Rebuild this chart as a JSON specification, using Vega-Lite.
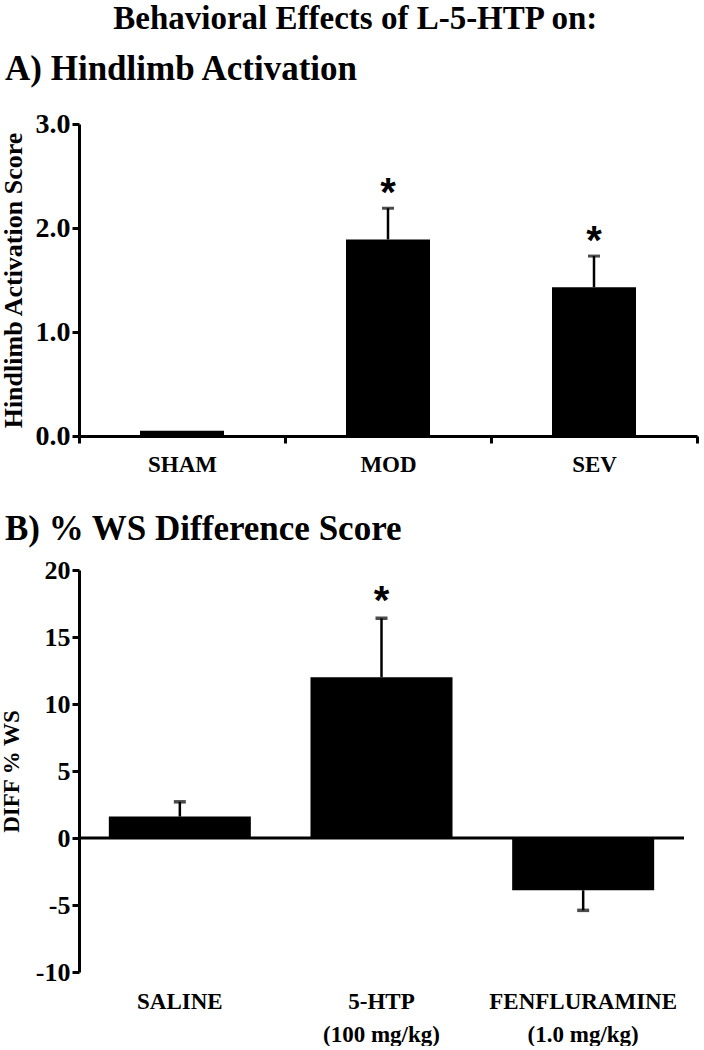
{
  "$schema": "https://vega.github.io/schema/vega-lite/v6.json",
  "background": "white",
  "padding": {"left": 0, "right": 4, "top": 3, "bottom": 0},
  "title": {
    "text": "Behavioral Effects of L-5-HTP on:",
    "font": "Liberation Serif",
    "fontSize": 33,
    "fontWeight": "bold",
    "color": "black",
    "anchor": "middle",
    "frame": "bounds",
    "dx": 6,
    "offset": 16
  },
  "config": {
    "view": {"stroke": null},
    "axis": {
      "labelFont": "Liberation Serif",
      "labelFontWeight": "bold",
      "labelColor": "black",
      "titleFont": "Liberation Serif",
      "titleFontWeight": "bold",
      "titleColor": "black",
      "domainColor": "black",
      "tickColor": "black",
      "domainWidth": 3,
      "tickWidth": 3,
      "tickSize": 7,
      "grid": false
    },
    "title": {"font": "Liberation Serif", "fontWeight": "bold", "color": "black"}
  },
  "spacing": 36,
  "vconcat": [
    {
      "width": 618,
      "height": 312,
      "title": {
        "text": "A) Hindlimb Activation",
        "fontSize": 35,
        "anchor": "start",
        "frame": "group",
        "dx": -74,
        "baseline": "alphabetic",
        "offset": -5
      },
      "data": {
        "values": [
          {"group": "SHAM", "mean": 0.05, "upper": null, "sig": false},
          {"group": "MOD", "mean": 1.89, "upper": 2.19, "sig": true},
          {"group": "SEV", "mean": 1.43, "upper": 1.73, "sig": true}
        ]
      },
      "encoding": {
        "x": {
          "field": "group",
          "type": "nominal",
          "sort": null,
          "scale": {"paddingInner": 0, "paddingOuter": 0},
          "axis": {
            "title": null,
            "labelAngle": 0,
            "tickBand": "extent",
            "labelPadding": 10,
            "labelFontSize": 23
          }
        }
      },
      "layer": [
        {
          "mark": {"type": "bar", "size": 84, "color": "black"},
          "encoding": {
            "y": {
              "field": "mean",
              "type": "quantitative",
              "title": "Hindlimb Activation Score",
              "scale": {"domain": [0, 3]},
              "axis": {
                "values": [0, 1, 2, 3],
                "format": ".1f",
                "labelFontSize": 28,
                "labelPadding": 2,
                "titleFontSize": 26,
                "titlePadding": 9
              }
            }
          }
        },
        {
          "transform": [{"filter": "datum.upper != null"}],
          "mark": {"type": "rule", "strokeWidth": 2.5, "color": "black"},
          "encoding": {
            "y": {"field": "mean", "type": "quantitative", "title": "Hindlimb Activation Score"},
            "y2": {"field": "upper"}
          }
        },
        {
          "transform": [{"filter": "datum.upper != null"}],
          "mark": {"type": "tick", "size": 12, "thickness": 3, "color": "black"},
          "encoding": {
            "y": {"field": "upper", "type": "quantitative", "title": "Hindlimb Activation Score"}
          }
        },
        {
          "transform": [{"filter": "datum.sig"}],
          "mark": {
            "type": "text",
            "text": "*",
            "font": "Liberation Sans",
            "fontWeight": "bold",
            "fontSize": 40,
            "baseline": "alphabetic",
            "dy": -2,
            "color": "black"
          },
          "encoding": {
            "y": {"field": "upper", "type": "quantitative", "title": "Hindlimb Activation Score"}
          }
        }
      ]
    },
    {
      "width": 605,
      "height": 402,
      "title": {
        "text": "B) % WS Difference Score",
        "fontSize": 35,
        "anchor": "start",
        "frame": "group",
        "dx": -74,
        "baseline": "alphabetic",
        "offset": -18
      },
      "data": {
        "values": [
          {"drug": "SALINE", "mean": 1.6, "end": 2.7, "sig": false},
          {"drug": "5-HTP", "mean": 12.0, "end": 16.4, "sig": true},
          {"drug": "FENFLURAMINE", "mean": -3.9, "end": -5.4, "sig": false}
        ]
      },
      "encoding": {
        "x": {
          "field": "drug",
          "type": "nominal",
          "sort": null,
          "scale": {"paddingInner": 0, "paddingOuter": 0},
          "axis": {
            "title": null,
            "labelAngle": 0,
            "domain": false,
            "ticks": false,
            "labelPadding": 18,
            "labelFontSize": 23,
            "labelLineHeight": 33,
            "labelLimit": 400,
            "labelExpr": "datum.value == '5-HTP' ? ['5-HTP', '(100 mg/kg)'] : datum.value == 'FENFLURAMINE' ? ['FENFLURAMINE', '(1.0 mg/kg)'] : datum.value"
          }
        }
      },
      "layer": [
        {
          "mark": {"type": "bar", "size": 142, "color": "black"},
          "encoding": {
            "y": {
              "field": "mean",
              "type": "quantitative",
              "title": "DIFF % WS",
              "scale": {"domain": [-10, 20]},
              "axis": {
                "values": [-10, -5, 0, 5, 10, 15, 20],
                "labelExpr": "'' + datum.value",
                "labelFontSize": 26,
                "labelPadding": 2,
                "titleFontSize": 23,
                "titlePadding": 12
              }
            }
          }
        },
        {
          "data": {"values": [{"zero": 0}]},
          "mark": {"type": "rule", "strokeWidth": 3, "color": "black"},
          "encoding": {
            "x": null,
            "y": {"field": "zero", "type": "quantitative", "title": "DIFF % WS"}
          }
        },
        {
          "mark": {"type": "rule", "strokeWidth": 2.5, "color": "black"},
          "encoding": {
            "y": {"field": "mean", "type": "quantitative", "title": "DIFF % WS"},
            "y2": {"field": "end"}
          }
        },
        {
          "mark": {"type": "tick", "size": 12, "thickness": 3.5, "color": "black"},
          "encoding": {
            "y": {"field": "end", "type": "quantitative", "title": "DIFF % WS"}
          }
        },
        {
          "transform": [{"filter": "datum.sig"}],
          "mark": {
            "type": "text",
            "text": "*",
            "font": "Liberation Sans",
            "fontWeight": "bold",
            "fontSize": 40,
            "baseline": "alphabetic",
            "dy": -4,
            "color": "black"
          },
          "encoding": {
            "y": {"field": "end", "type": "quantitative", "title": "DIFF % WS"}
          }
        }
      ]
    }
  ]
}
